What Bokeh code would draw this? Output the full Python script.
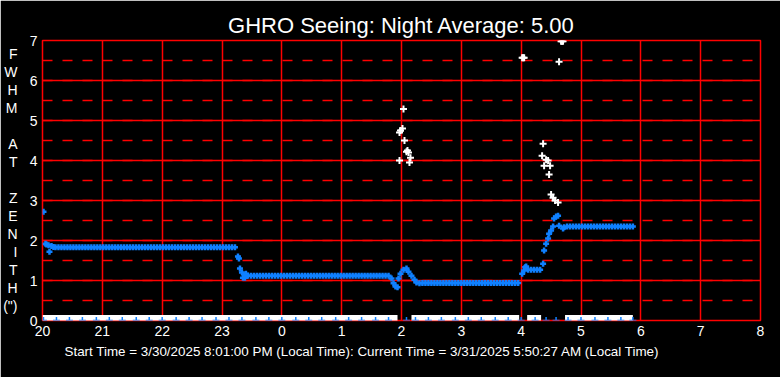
from bokeh.plotting import figure
from bokeh.models import Range1d, SingleIntervalTicker, FixedTicker, LinearAxis, Title
from bokeh.embed import file_html
from bokeh.resources import INLINE

# ---------------- data (time in minutes after 20:00 local) ----------------
hour_ticks = [20, 21, 22, 23, 24, 25, 26, 27, 28, 29, 30, 31, 32]
hour_labels = ["20", "21", "22", "23", "0", "1", "2", "3", "4", "5", "6", "7", "8"]

# blue series: FWHM at zenith
fwhm_start_t = [1, 3, 4, 6, 7, 9, 11]
fwhm_start_v = [2.72, 1.92, 1.90, 1.88, 1.72, 1.86, 1.84]

fwhm_eve_t = [13, 16, 19, 22, 25, 28, 31, 34, 37, 40, 43, 46, 49, 52, 55, 58, 61, 64, 67, 70,
              73, 76, 79, 82, 85, 88, 91, 94, 97, 100, 103, 106, 109, 112, 115, 118, 121, 124,
              127, 130, 133, 136, 139, 142, 145, 148, 151, 154, 157, 160, 163, 166, 169, 172,
              175, 178, 181, 184, 187, 190, 193]
fwhm_eve_v = [1.83, 1.83, 1.83, 1.83, 1.83, 1.83, 1.83, 1.83, 1.83, 1.83, 1.83, 1.83, 1.83,
              1.83, 1.83, 1.83, 1.83, 1.83, 1.83, 1.83, 1.83, 1.83, 1.83, 1.83, 1.83, 1.83,
              1.83, 1.83, 1.83, 1.83, 1.83, 1.83, 1.83, 1.83, 1.83, 1.83, 1.83, 1.83, 1.83,
              1.83, 1.83, 1.83, 1.83, 1.83, 1.83, 1.83, 1.83, 1.83, 1.83, 1.83, 1.83, 1.83,
              1.83, 1.83, 1.83, 1.83, 1.83, 1.83, 1.83, 1.83, 1.83]

fwhm_drop_t = [196, 197, 198, 200, 201, 203, 204]
fwhm_drop_v = [1.60, 1.55, 1.30, 1.20, 1.07, 1.07, 1.17]

fwhm_mid_t = [206, 209, 212, 215, 218, 221, 224, 227, 230, 233, 236, 239, 242, 245, 248, 251,
              254, 257, 260, 263, 266, 269, 272, 275, 278, 281, 284, 287, 290, 293, 296, 299,
              302, 305, 308, 311, 314, 317, 320, 323, 326, 329, 332, 335, 338, 341, 344, 347]
fwhm_mid_v = [1.12, 1.12, 1.12, 1.12, 1.12, 1.12, 1.12, 1.12, 1.12, 1.12, 1.12, 1.12, 1.12,
              1.12, 1.12, 1.12, 1.12, 1.12, 1.12, 1.12, 1.12, 1.12, 1.12, 1.12, 1.12, 1.12,
              1.12, 1.12, 1.12, 1.12, 1.12, 1.12, 1.12, 1.12, 1.12, 1.12, 1.12, 1.12, 1.12,
              1.12, 1.12, 1.12, 1.12, 1.12, 1.12, 1.12, 1.12, 1.12]

fwhm_dip_t = [350, 352, 354, 356, 357, 359, 362, 365, 367, 370, 373, 375, 378]
fwhm_dip_v = [1.05, 0.93, 0.85, 0.83, 1.05, 1.17, 1.27, 1.30, 1.22, 1.12, 1.02, 0.95, 0.93]

fwhm_low_t = [381, 384, 387, 390, 393, 396, 399, 402, 405, 408, 411, 414, 417, 420, 423, 426,
              429, 432, 435, 438, 441, 444, 447, 450, 453, 456, 459, 462, 465, 468, 471, 474, 477]
fwhm_low_v = [0.94, 0.94, 0.94, 0.94, 0.94, 0.94, 0.94, 0.94, 0.94, 0.94, 0.94, 0.94, 0.94,
              0.94, 0.94, 0.94, 0.94, 0.94, 0.94, 0.94, 0.94, 0.94, 0.94, 0.94, 0.94, 0.94,
              0.94, 0.94, 0.94, 0.94, 0.94, 0.94, 0.94]

fwhm_rise_t = [481, 483, 484, 485, 487, 490, 493, 496, 499, 502, 503, 505, 507, 508, 510, 512,
               513, 515, 517, 518, 522, 523]
fwhm_rise_v = [1.17, 1.25, 1.33, 1.35, 1.27, 1.27, 1.27, 1.27, 1.27, 1.42, 1.75, 1.92, 2.05,
               2.17, 2.25, 2.35, 2.55, 2.60, 2.62, 2.37, 2.30, 2.33]

fwhm_dawn_t = [526, 529, 532, 535, 538, 541, 544, 547, 550, 553, 556, 559, 562, 565, 568, 571,
               574, 577, 580, 583, 586, 589, 592]
fwhm_dawn_v = [2.35, 2.35, 2.35, 2.35, 2.35, 2.35, 2.35, 2.35, 2.35, 2.35, 2.35, 2.35, 2.35,
               2.35, 2.35, 2.35, 2.35, 2.35, 2.35, 2.35, 2.35, 2.35, 2.35]

# blue series samples reading zero
fwhm_zero_t = [1, 14, 27, 40, 54, 67, 80, 94, 107, 120, 134, 147, 160, 174, 187, 200, 214, 227,
               240, 254, 267, 280, 294, 307, 320, 334, 347, 365, 374, 387, 400, 414, 427, 440,
               454, 467, 480, 494, 505, 515, 527, 540, 554, 567, 580, 592]

# white series: non-zero readings
white_t = [358, 358, 359, 361, 362, 363, 365, 366, 367, 368, 369,
           481, 482, 483, 501, 502, 503, 505, 507, 508, 509, 510, 512, 514, 517, 518, 520, 521, 522]
white_v = [4.00, 4.70, 4.75, 4.80, 5.29, 4.50, 4.22, 4.25, 4.20, 3.95, 4.07,
           6.57, 6.57, 6.57, 4.12, 4.42, 3.87, 4.02, 4.00, 3.65, 3.87, 3.15, 3.07, 3.00, 2.95,
           6.47, 6.98, 6.98, 6.98]

# white series: runs of zero readings (start / end minute)
white_zero_start = [0, 370, 486, 524]
white_zero_end = [356, 478, 500, 592]

title_text = "GHRO Seeing: Night Average: 5.00"
caption_text = ("Start Time = 3/30/2025 8:01:00 PM (Local Time): "
                "Current Time = 3/31/2025 5:50:27 AM (Local Time)")
ylabel_letters = ["F", "W", "H", "M", "", "A", "T", "", "Z", "E", "N", "I", "T", "H", "(\")"]

# ---------------- figure ----------------
BLUE = "#0F80FF"
FONT = "Liberation Sans"


def hrs(mins):
    return [20 + m / 60.0 for m in mins]


p = figure(width=780, height=377, output_backend="svg", toolbar_location=None,
           x_range=Range1d(20, 32), y_range=Range1d(0, 7),
           min_border_left=40, min_border_right=20, min_border_top=40, min_border_bottom=57,
           background_fill_color="black", border_fill_color="black",
           outline_line_color="red", outline_line_width=1.5)

# title above and caption below
p.title.text = title_text
p.title.align = "center"
p.title.offset = -8
p.title.standoff = 6
p.title.text_color = "white"
p.title.text_font = FONT
p.title.text_font_size = "22px"
p.title.text_font_style = "normal"

p.xaxis.ticker = SingleIntervalTicker(interval=1, num_minor_ticks=0)
p.yaxis.ticker = SingleIntervalTicker(interval=1, num_minor_ticks=2)
p.xaxis.major_label_overrides = {t: l for t, l in zip(hour_ticks, hour_labels)}

# vertical "F W H M  A T  Z E N I T H (\")" label as a letter-per-line axis
letter_pos = []
letter_map = {}
for k, letter in enumerate(ylabel_letters):
    if letter:
        pos = (320 - (53 + 18 * k)) / 40.0
        letter_pos.append(pos)
        letter_map[pos] = letter
letter_axis = LinearAxis(ticker=FixedTicker(ticks=letter_pos), major_label_overrides=letter_map)
p.add_layout(letter_axis, "left")

for ax in (p.xaxis[0], p.yaxis[0], letter_axis):
    ax.axis_line_color = None
    ax.major_tick_line_color = None
    ax.minor_tick_line_color = None
    ax.major_tick_out = 0
    ax.major_tick_in = 0
    ax.minor_tick_out = 0
    ax.minor_tick_in = 0
    ax.major_label_text_color = "white"
    ax.major_label_text_font = FONT
    ax.major_label_text_font_size = "14px"
    ax.major_label_standoff = 5
letter_axis.major_label_standoff = 9

p.add_layout(Title(text=caption_text, align="left", offset=22, standoff=7,
                   text_color="white", text_font=FONT, text_font_size="13.4px",
                   text_font_style="normal"), "below")

p.xgrid.grid_line_color = "red"
p.xgrid.grid_line_width = 1.5
p.ygrid.grid_line_color = "red"
p.ygrid.grid_line_width = 1.5
p.ygrid.minor_grid_line_color = "red"
p.ygrid.minor_grid_line_width = 1.5
p.ygrid.minor_grid_line_dash = "10 10"

# white zero runs
p.segment(x0=hrs(white_zero_start), y0=[0] * len(white_zero_start),
          x1=hrs(white_zero_end), y1=[0] * len(white_zero_end),
          line_color="white", line_width=11, line_cap="butt")

# blue zeros
p.scatter(hrs(fwhm_zero_t), [0] * len(fwhm_zero_t), marker="cross", size=7,
          line_color=BLUE, line_width=1.5)

# blue series
fwhm_t = (fwhm_start_t + fwhm_eve_t + fwhm_drop_t + fwhm_mid_t + fwhm_dip_t +
          fwhm_low_t + fwhm_rise_t + fwhm_dawn_t)
fwhm_v = (fwhm_start_v + fwhm_eve_v + fwhm_drop_v + fwhm_mid_v + fwhm_dip_v +
          fwhm_low_v + fwhm_rise_v + fwhm_dawn_v)
p.scatter(hrs(fwhm_t), fwhm_v, marker="cross", size=6, line_color=BLUE, line_width=2.5)

# white series
p.scatter(hrs(white_t), white_v, marker="cross", size=7, line_color="white", line_width=2)

html = file_html(p, INLINE)
html = html.replace("<body>", '<body style="margin:0;overflow:hidden;background-color:#000000;">', 1)
open("out.html", "w").write(html)
